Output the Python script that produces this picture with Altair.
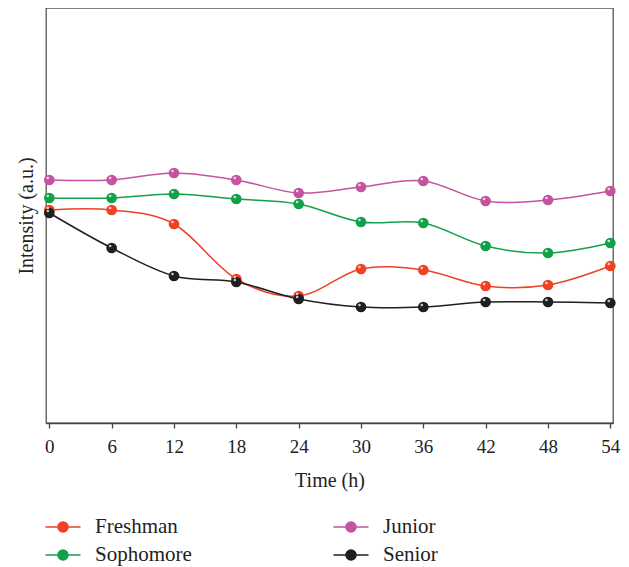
import altair as alt
import pandas as pd

hours = [0, 6, 12, 18, 24, 30, 36, 42, 48, 54]
freshman = [213, 213, 199, 144, 127, 154, 153, 137, 138, 157]
sophomore = [225, 225, 229, 224, 219, 201, 200, 177, 170, 180]
junior = [243, 243, 250, 243, 230, 236, 242, 222, 223, 232]
senior = [210, 175, 147, 141, 124, 116, 116, 121, 121, 120]

groups = ["Freshman", "Sophomore", "Junior", "Senior"]
colors = ["#ef4123", "#12a04b", "#c4549f", "#1f1f1f"]
series = {"Freshman": freshman, "Sophomore": sophomore, "Junior": junior, "Senior": senior}

rows = []
for name, vals in series.items():
    for h, v in zip(hours, vals):
        rows.append({"Time": h, "Group": name, "Intensity": v})
df = pd.DataFrame(rows)

FONT = "Liberation Serif"

legend_symbol = ("M-1.25,0L-0.36,0M0.36,0L1.25,0"
                 "M-0.36,0A0.36,0.36,0,1,1,0.36,0A0.36,0.36,0,1,1,-0.36,0Z")

x = alt.X("Time:Q",
          scale=alt.Scale(domain=[-0.32, 54.26], nice=False, zero=False),
          axis=alt.Axis(values=hours, title="Time (h)", grid=False))
y = alt.Y("Intensity:Q",
          scale=alt.Scale(domain=[0, 415], nice=False),
          axis=alt.Axis(labels=False, ticks=False, domain=False, grid=False,
                        title="Intensity (a.u.)", titlePadding=10))
color = alt.Color("Group:N",
                  scale=alt.Scale(domain=groups, range=colors),
                  legend=alt.Legend(
                      title=None, orient="none", legendX=2, legendY=504,
                      columns=2, columnPadding=138, rowPadding=3,
                      symbolType=legend_symbol, symbolSize=784,
                      symbolStrokeWidth=1.5, labelOffset=17, symbolOpacity=1,
                      labelFont=FONT, labelFontSize=21, labelColor="#222"))

base = alt.Chart(df).encode(x=x, y=y, color=color)
lines = base.mark_line(interpolate="cardinal", strokeWidth=1.5)
points = base.mark_point(filled=True, size=115, opacity=1)
shine = alt.Chart(df).mark_point(filled=True, size=7, opacity=0.75, color="white",
                                 xOffset=-1.5, yOffset=-2).encode(x=x, y=y)

chart = alt.layer(lines, points, shine).properties(
    width=567, height=415,
    autosize=alt.AutoSizeParams(type="none"),
    padding={"left": 38, "top": 0, "right": 8, "bottom": 144},
).configure_view(
    stroke="#555", strokeWidth=1.3
).configure_axis(
    domainColor="#444", domainWidth=1.3, tickColor="#444", tickWidth=1.3,
    tickSize=5, labelFont=FONT, labelFontSize=19, labelColor="#222",
    labelPadding=9, titleFont=FONT, titleFontSize=20, titleFontWeight="normal",
    titleColor="#222", titlePadding=14
)

chart.save("out.html", embed_options={"renderer": "svg", "actions": False})
